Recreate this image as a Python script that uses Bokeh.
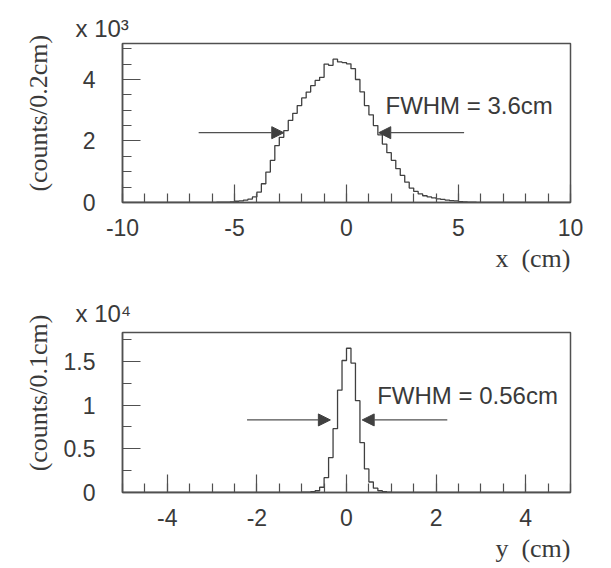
import numpy as np
from bokeh.plotting import figure
from bokeh.layouts import column
from bokeh.models import Label, Arrow, NormalHead, Range1d, SingleIntervalTicker, Title
from bokeh.embed import file_html
from bokeh.resources import INLINE

# ---------------- data ----------------
# top: x distribution, bins of 0.2 cm, counts in units of 10^3
x_bin_width = 0.2
x_first_edge = -6.0
x_counts_k = [0.005, 0.01, 0.01, 0.015, 0.02, 0.04, 0.05, 0.08, 0.11, 0.18,
              0.34, 0.61, 0.99, 1.37, 1.85, 2.12, 2.34, 2.67, 2.90, 3.15,
              3.40, 3.59, 3.80, 3.97, 4.07, 4.50, 4.46, 4.66, 4.57, 4.55,
              4.51, 4.35, 4.00, 3.60, 3.15, 2.85, 2.50, 2.20, 1.90, 1.62,
              1.37, 1.10, 0.88, 0.66, 0.47, 0.36, 0.28, 0.22, 0.18, 0.15,
              0.12, 0.10, 0.08, 0.06, 0.05, 0.03, 0.02, 0.015, 0.01, 0.005]
x_fwhm_text = "FWHM = 3.6cm"
x_ticks_top = [-10, -5, 0, 5, 10]

# bottom: y distribution, bins of 0.1 cm, counts in units of 10^4
y_bin_width = 0.1
y_first_edge = -1.0
y_counts_10k = [0.003, 0.005, 0.01, 0.02, 0.06, 0.17, 0.40, 0.73, 1.17, 1.51,
                1.65, 1.48, 1.05, 0.57, 0.27, 0.12, 0.05, 0.02, 0.01, 0.005]
y_fwhm_text = "FWHM = 0.56cm"
x_ticks_bot = [-4, -2, 0, 2, 4]
y_ticks_bot = [0, 0.5, 1, 1.5]

x_range_top = (-10, 10)
y_range_top = (0, 5.17)
x_range_bot = (-5, 5)
y_range_bot = (0, 1.83)

TEXT = "#3a3a3a"
LINE = "#505050"
SANS = "Liberation Sans"
SERIF = "Liberation Serif"
NB = "\u00a0"


def hist_step(first_edge, width, counts, lo, hi):
    n_left = int(round((first_edge - lo) / width))
    n_total = int(round((hi - lo) / width))
    full = [0.0] * n_left + list(counts)
    full += [0.0] * (n_total - len(full))
    edges = lo + width * np.arange(n_total + 1)
    vals = full + [full[-1]]
    return edges, vals


def fmt(v):
    return "%g" % v


def style(p, xint, xminor, yint, yminor, xticks, yticks):
    p.xgrid.visible = False
    p.ygrid.visible = False
    p.outline_line_color = LINE
    p.outline_line_width = 1.5
    p.background_fill_color = "white"
    p.border_fill_color = "white"
    p.xaxis.ticker = SingleIntervalTicker(interval=xint, num_minor_ticks=xminor)
    p.yaxis.ticker = SingleIntervalTicker(interval=yint, num_minor_ticks=yminor)
    if xticks:
        p.xaxis.major_label_overrides = {t: fmt(t) for t in xticks}
    if yticks:
        p.yaxis.major_label_overrides = {t: fmt(t) for t in yticks}
    for ax in (p.xaxis[0], p.yaxis[0]):
        ax.major_tick_in = 18
        ax.major_tick_out = 0
        ax.minor_tick_in = 9
        ax.minor_tick_out = 0
        ax.axis_line_color = LINE
        ax.axis_line_width = 1.5
        ax.major_tick_line_color = LINE
        ax.minor_tick_line_color = LINE
        ax.major_tick_line_width = 1.2
        ax.minor_tick_line_width = 1.2
        ax.major_label_text_font = SANS
        ax.major_label_text_font_size = "23px"
        ax.major_label_text_color = TEXT
        ax.axis_label_text_font = SERIF
        ax.axis_label_text_font_size = "26px"
        ax.axis_label_text_font_style = "normal"
        ax.axis_label_text_color = TEXT
    p.xaxis.major_label_standoff = 16
    p.yaxis.major_label_standoff = 27


def scale_title(p, text, offset, standoff):
    p.title.text = text
    p.title.align = "left"
    p.title.offset = offset
    p.title.text_font = SANS
    p.title.text_font_size = "24px"
    p.title.text_font_style = "normal"
    p.title.text_color = TEXT
    p.title.standoff = standoff


def xlabel(p, text, standoff):
    t = Title(text=text, align="right", text_font=SERIF, text_font_size="26px",
              text_font_style="normal", text_color=TEXT, standoff=standoff)
    p.add_layout(t, "below")


def inner_text(p, x, y, text):
    p.add_layout(Label(x=x, y=y, text=text, text_font=SANS, text_font_size="24px",
                       text_color=TEXT, text_align="left", text_baseline="alphabetic"))


def arrows(p, y, l_from, l_to, r_from, r_to):
    for a, b in ((l_from, l_to), (r_from, r_to)):
        p.add_layout(Arrow(x_start=a, y_start=y, x_end=b, y_end=y,
                           line_color=LINE, line_width=1.2,
                           end=NormalHead(size=12, fill_color="#404040",
                                          line_color="#404040", line_width=1)))


# ---------------- top figure ----------------
p1 = figure(width=611, height=290, output_backend="svg", toolbar_location=None,
            x_range=Range1d(*x_range_top), y_range=Range1d(*y_range_top),
            min_border_left=122, min_border_right=41, min_border_top=43,
            min_border_bottom=88)
style(p1, 5, 5, 2, 4, x_ticks_top, None)
e1, v1 = hist_step(x_first_edge, x_bin_width, x_counts_k, *x_range_top)
p1.step(x=e1, y=v1, mode="after", line_color="#404040", line_width=1.3)
arrows(p1, 2.27, -6.6, -2.8, 5.25, 1.44)
inner_text(p1, 1.74, 3.15, x_fwhm_text)
scale_title(p1, "x 10\u00b3", -47, 4)
p1.yaxis.axis_label = NB * 3 + "(counts/0.2cm)"
p1.yaxis.axis_label_standoff = 27
xlabel(p1, "x" + NB * 2 + "(cm)", 7)

# ---------------- bottom figure ----------------
p2 = figure(width=611, height=278, output_backend="svg", toolbar_location=None,
            x_range=Range1d(*x_range_bot), y_range=Range1d(*y_range_bot),
            min_border_left=122, min_border_right=41, min_border_top=42,
            min_border_bottom=76)
style(p2, 2, 4, 0.5, 2, x_ticks_bot, y_ticks_bot)
e2, v2 = hist_step(y_first_edge, y_bin_width, y_counts_10k, *x_range_bot)
p2.step(x=e2, y=v2, mode="after", line_color="#404040", line_width=1.3)
arrows(p2, 0.83, -2.22, -0.36, 2.25, 0.35)
inner_text(p2, 0.685, 1.11, y_fwhm_text)
scale_title(p2, "x 10\u2074", -47, 12)
p2.yaxis.axis_label = NB * 6 + "(counts/0.1cm)"
p2.yaxis.axis_label_standoff = 8
xlabel(p2, "y" + NB * 2 + "(cm)", 7)

layout = column(p1, p2)
open("out.html", "w").write(file_html(layout, INLINE))
